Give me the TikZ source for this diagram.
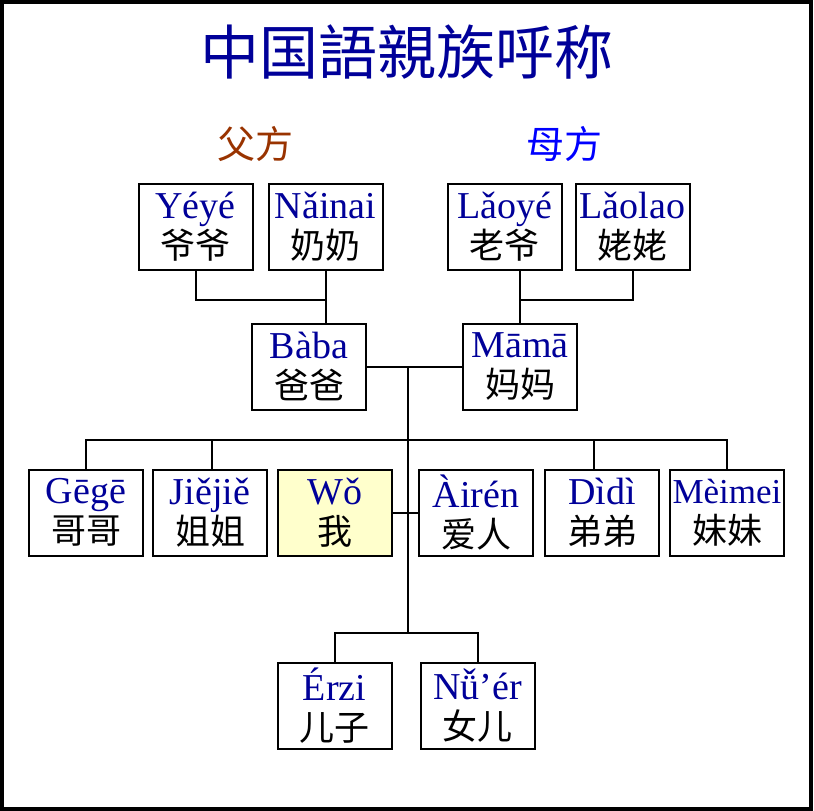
\documentclass[tikz,border=0pt]{standalone}
\usepackage{fontspec}
\setmainfont{Liberation Serif}
\newfontfamily\cjk{Noto Sans CJK SC}
\usetikzlibrary{positioning}
\definecolor{pyblue}{RGB}{0,0,153}
\definecolor{fabrown}{RGB}{153,51,0}
\definecolor{mublue}{RGB}{0,0,255}
\definecolor{selfyel}{RGB}{255,255,204}
\newcommand{\pinyin}[1]{{\color{pyblue}#1}}
\newcommand{\hanzi}[1]{{\cjk\fontsize{35}{40}\selectfont #1}}
\tikzset{
  kinbox/.style  = {draw=black, line width=2pt, fill=white,
                    minimum width=114pt, minimum height=86pt,
                    text width=114pt, inner sep=0pt, align=center,
                    font=\fontsize{38}{40}\selectfont},
  selfbox/.style = {kinbox, fill=selfyel},
  sidelbl/.style = {font=\cjk\fontsize{38}{40}\selectfont},
  famline/.style = {line width=2pt, black},
}
\begin{document}
\begin{tikzpicture}[x=1pt, y=-1pt, node distance=8pt]
  \useasboundingbox (0,0) rectangle (814,811);
  \draw[line width=4pt] (2,2) rectangle (811,808.5);
  % title and sides
  \node[font=\cjk\fontsize{59}{60}\selectfont, text=pyblue] (title) at (407,52) {中国語親族呼称};
  \node[sidelbl, text=fabrown] (fuside) at (255,144) {父方};
  \node[sidelbl, text=mublue] (muside) at (564,144) {母方};
  % grandparents
  \node[kinbox] (yeye) at (195.5,227) {\pinyin{Yéyé}\\\hanzi{爷爷}};
  \node[kinbox, right=14pt of yeye] (nainai) {\pinyin{Nǎinai}\\\hanzi{奶奶}};
  \node[kinbox] (laoye) at (504.5,227) {\pinyin{Lǎoyé}\\\hanzi{老爷}};
  \node[kinbox, right=12pt of laoye] (laolao) {\pinyin{Lǎolao}\\\hanzi{姥姥}};
  % parents
  \node[kinbox] (baba) at (309,366.5) {\pinyin{Bàba}\\\hanzi{爸爸}};
  \node[kinbox] (mama) at (520,366.5) {\pinyin{Māmā}\\\hanzi{妈妈}};
  % own generation
  \node[kinbox] (gege) at (86,512.5) {\pinyin{Gēgē}\\\hanzi{哥哥}};
  \node[kinbox, right=of gege] (jiejie) {\pinyin{Jiějiě}\\\hanzi{姐姐}};
  \node[selfbox, right=9pt of jiejie] (wo) {\pinyin{Wǒ}\\\hanzi{我}};
  \node[kinbox, right=25pt of wo] (airen) {\pinyin{Àirén}\\\hanzi{爱人}};
  \node[kinbox, right=10pt of airen] (didi) {\pinyin{Dìdì}\\\hanzi{弟弟}};
  \node[kinbox, right=9pt of didi] (meimei) {\fontsize{35}{40}\selectfont\pinyin{Mèimei}\\\hanzi{妹妹}};
  % children
  \node[kinbox] (erzi) at (334.5,706) {\pinyin{Érzi}\\\hanzi{儿子}};
  \node[kinbox, right=27pt of erzi] (nuer) {\pinyin{Nǚ’ér}\\\hanzi{女儿}};
  % junctions
  \coordinate (pgp) at (325,300);
  \coordinate (mgp) at (520,300);
  \coordinate (par) at (407.5,366.5);
  \coordinate (sib) at (407.5,440);
  \coordinate (kid) at (407.5,633);
  % lines
  \draw[famline] (yeye.south) |- (pgp);
  \draw[famline] (nainai.south) -- (nainai.south |- baba.north);
  \draw[famline] (laolao.south) |- (mgp);
  \draw[famline] (laoye.south -| mama.north) -- (mama.north);
  \draw[famline] (baba.east) -- (mama.west);
  \draw[famline] (par) -- (kid);
  \draw[famline] (gege.north) |- (sib) -| (meimei.north);
  \draw[famline] ([xshift=2pt]jiejie.north) -- ([xshift=2pt]jiejie.north |- sib);
  \draw[famline] ([xshift=-8pt]didi.north) -- ([xshift=-8pt]didi.north |- sib);
  \draw[famline] (wo.east) -- (airen.west);
  \draw[famline] (erzi.north) |- (kid) -| (nuer.north);
\end{tikzpicture}
\end{document}
